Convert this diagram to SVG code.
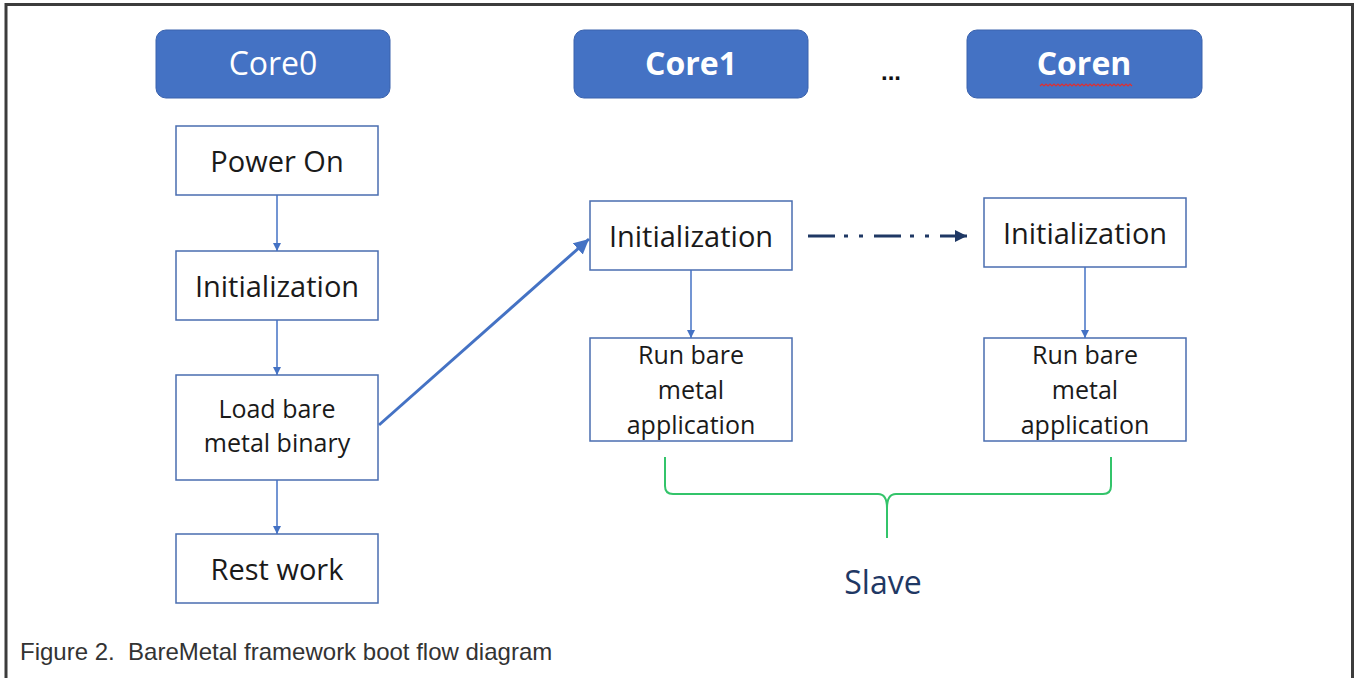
<svg xmlns="http://www.w3.org/2000/svg" width="1354" height="678" viewBox="0 0 1354 678">
<defs>
<style>
.core{fill:#4472C4;stroke:#3a62ad;stroke-width:1}
.ct{font-family:"Open Sans","Noto Sans",sans-serif;font-size:32px;fill:#ffffff;text-anchor:middle}
.box{fill:#ffffff;stroke:#4a6db0;stroke-width:1.5}
.bt{font-family:"Open Sans","Noto Sans",sans-serif;font-size:29px;fill:#1a1a1a;text-anchor:middle}
.bt2{font-family:"Open Sans","Noto Sans",sans-serif;font-size:25px;fill:#1a1a1a;text-anchor:middle}
.conn{stroke:#4472C4;stroke-width:1.5;fill:none}
</style>
<marker id="ah" viewBox="0 0 10 10" refX="10" refY="5" markerWidth="8" markerHeight="8" markerUnits="userSpaceOnUse" orient="auto"><path d="M0,0 L10,5 L0,10 z" fill="#4472C4"/></marker>
<marker id="ahb" viewBox="0 0 10 10" refX="10" refY="5" markerWidth="5" markerHeight="5" orient="auto"><path d="M0,0 L10,5 L0,10 z" fill="#4472C4"/></marker>
<marker id="ahn" viewBox="0 0 10 10" refX="10" refY="5" markerWidth="4" markerHeight="4" orient="auto"><path d="M0,0 L10,5 L0,10 z" fill="#1F3864"/></marker>
</defs>
<rect x="0" y="0" width="1354" height="678" fill="#ffffff"/>
<path d="M6,678 V4.5 H1352.5 V678" fill="none" stroke="#3c3c3c" stroke-width="3"/>

<g id="core0"><rect class="core" x="156" y="30" width="234" height="68" rx="10"/><text class="ct" x="273" y="75">Core0</text></g>
<g id="core1"><rect class="core" x="574" y="30" width="234" height="68" rx="10"/><text class="ct" x="691" y="75" font-weight="bold">Core1</text></g>
<g id="dots"><text x="891" y="80" font-family="Liberation Sans,sans-serif" font-size="24" font-weight="bold" fill="#111" text-anchor="middle">...</text></g>
<g id="coren"><rect class="core" x="967" y="30" width="235" height="68" rx="10"/><text class="ct" x="1084" y="75" font-weight="bold">Coren</text>
<path d="M1040,86 l2,-2 2,2 2,-2 2,2 2,-2 2,2 2,-2 2,2 2,-2 2,2 2,-2 2,2 2,-2 2,2 2,-2 2,2 2,-2 2,2 2,-2 2,2 2,-2 2,2 2,-2 2,2 2,-2 2,2 2,-2 2,2 2,-2 2,2 2,-2 2,2 2,-2 2,2 2,-2 2,2 2,-2 2,2 2,-2 2,2 2,-2 2,2 2,-2 2,2 2,-2 2,2" fill="none" stroke="#e03030" stroke-width="1.2"/></g>

<g id="poweron"><rect class="box" x="176" y="126" width="202" height="69"/><text class="bt" x="277" y="172">Power On</text></g>
<g id="init0"><rect class="box" x="176" y="251" width="202" height="69"/><text class="bt" x="277" y="297">Initialization</text></g>
<g id="load"><rect class="box" x="176" y="375" width="202" height="105"/><text class="bt2" x="277" y="418">Load bare</text><text class="bt2" x="277" y="452">metal binary</text></g>
<g id="rest"><rect class="box" x="176" y="534" width="202" height="69"/><text class="bt" x="277" y="580">Rest work</text></g>

<g id="init1"><rect class="box" x="590" y="201" width="202" height="69"/><text class="bt" x="691" y="247">Initialization</text></g>
<g id="run1"><rect class="box" x="590" y="338" width="202" height="103"/><text class="bt2" x="691" y="364">Run bare</text><text class="bt2" x="691" y="399">metal</text><text class="bt2" x="691" y="434">application</text></g>
<g id="initn"><rect class="box" x="984" y="198" width="202" height="69"/><text class="bt" x="1085" y="244">Initialization</text></g>
<g id="runn"><rect class="box" x="984" y="338" width="202" height="103"/><text class="bt2" x="1085" y="364">Run bare</text><text class="bt2" x="1085" y="399">metal</text><text class="bt2" x="1085" y="434">application</text></g>

<g id="connectors">
<line class="conn" x1="277" y1="195" x2="277" y2="251" marker-end="url(#ah)"/>
<line class="conn" x1="277" y1="320" x2="277" y2="375" marker-end="url(#ah)"/>
<line class="conn" x1="277" y1="480" x2="277" y2="534" marker-end="url(#ah)"/>
<line class="conn" x1="691" y1="270" x2="691" y2="338" marker-end="url(#ah)"/>
<line class="conn" x1="1085" y1="267" x2="1085" y2="338" marker-end="url(#ah)"/>
<line x1="379" y1="425" x2="589" y2="239" stroke="#4472C4" stroke-width="3" marker-end="url(#ahb)"/>
<line x1="808" y1="236" x2="967" y2="236" stroke="#1F3864" stroke-width="3" stroke-dasharray="27,9,4,11,4,11" marker-end="url(#ahn)"/>
</g>

<g id="brace"><path d="M665,457 V486 Q665,494 673,494 H878 Q887,494 887,508 V538 M887,508 Q887,494 896,494 H1103 Q1111,494 1111,486 V457" fill="none" stroke="#33c46a" stroke-width="2"/></g>
<g id="slave"><text x="883" y="594" font-family="Open Sans,Noto Sans,sans-serif" font-size="32" fill="#1F3864" text-anchor="middle">Slave</text></g>
<g id="caption"><text x="20" y="660" font-family="Liberation Sans,Arial,sans-serif" font-size="24" fill="#333333" xml:space="preserve" style="white-space:pre">Figure 2.  BareMetal framework boot flow diagram</text></g>
</svg>
